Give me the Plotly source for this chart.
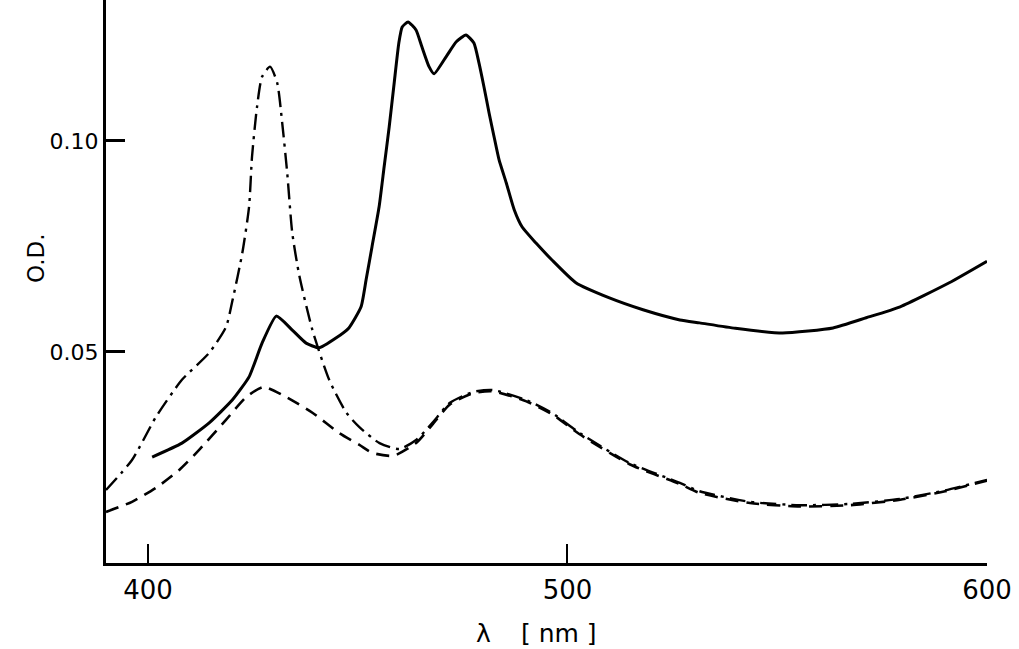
import plotly.graph_objects as go

# Solid curve
solid_x = [401.0, 408.1, 414.6, 420.1, 424.1, 427.2, 430.6, 434.4, 437.7, 440.8, 444.8, 447.9,
           450.8, 452.0, 453.4, 455.1, 456.3, 457.5, 458.7, 459.8, 460.6, 462.0, 463.9, 465.3,
           467.0, 468.2, 471.1, 473.5, 475.8, 477.7, 478.9, 480.1, 481.3, 482.5, 483.7, 485.4,
           487.3, 489.2, 492.5, 496.3, 502.0, 510.0, 518.0, 526.8, 531.5, 540.0, 551.3, 563.3,
           571.2, 579.3, 591.0, 600.0]
solid_y = [0.0251, 0.0284, 0.0332, 0.0386, 0.0441, 0.0521, 0.0585, 0.0552, 0.0521, 0.0510, 0.0533, 0.0557,
           0.0607, 0.0671, 0.0749, 0.0844, 0.0939, 0.1033, 0.1138, 0.1232, 0.1270, 0.1282, 0.1263, 0.1223,
           0.1176, 0.1159, 0.1200, 0.1235, 0.1251, 0.1232, 0.1185, 0.1128, 0.1067, 0.1010, 0.0955, 0.0901,
           0.0837, 0.0796, 0.0758, 0.0718, 0.0664, 0.0628, 0.0600, 0.0576, 0.0569, 0.0556, 0.0545, 0.0557,
           0.0581, 0.0607, 0.0664, 0.0715]

# Dash-dot curve
dashdot_x = [390.0, 396.2, 401.9, 408.1, 414.6, 418.6, 420.1, 422.5, 424.1, 424.8, 426.0, 427.2,
             429.1, 430.8, 432.0, 433.2, 434.4, 436.1, 439.2, 443.2, 447.3, 450.4, 455.2, 459.9,
             464.0, 467.8, 471.9, 477.4, 482.1, 490.2, 496.4, 502.9, 514.8, 526.8, 531.5, 543.5,
             555.4, 567.3, 579.3, 590.0, 600.0]
dashdot_y = [0.0173, 0.0244, 0.0346, 0.0434, 0.0498, 0.0559, 0.0620, 0.0735, 0.0844, 0.0962, 0.1081, 0.1152,
             0.1176, 0.1138, 0.1043, 0.0924, 0.0782, 0.0680, 0.0552, 0.0434, 0.0356, 0.0322, 0.0284, 0.0270,
             0.0292, 0.0332, 0.0379, 0.0405, 0.0410, 0.0386, 0.0355, 0.0308, 0.0237, 0.0190, 0.0170, 0.0145,
             0.0137, 0.0140, 0.0152, 0.0172, 0.0197]

# Dashed curve
dashed_x = [390.0, 396.2, 401.9, 407.4, 412.2, 418.6, 423.4, 427.5, 433.0, 439.2, 445.6, 450.4,
            453.5, 458.5, 464.0, 467.8, 471.9, 477.4, 482.1, 490.2, 496.4, 502.9, 514.8, 526.8,
            531.5, 543.5, 555.4, 567.3, 579.3, 590.0, 600.0]
dashed_y = [0.0121, 0.0145, 0.0178, 0.0220, 0.0268, 0.0339, 0.0393, 0.0417, 0.0393, 0.0356, 0.0308, 0.0280,
            0.0261, 0.0254, 0.0285, 0.0328, 0.0375, 0.0402, 0.0407, 0.0383, 0.0352, 0.0305, 0.0234, 0.0187,
            0.0166, 0.0142, 0.0134, 0.0137, 0.0150, 0.0170, 0.0195]

x_ticks = [400, 500, 600]
x_tick_labels = ["400", "500", "600"]
y_ticks = [0.05, 0.10]
y_tick_labels = ["0.05", "0.10"]

FONT = "DejaVu Sans"

fig = go.Figure()
fig.add_trace(go.Scatter(x=dashed_x, y=dashed_y, mode="lines",
                         line=dict(color="black", width=2.6, dash="13px,8px", shape="spline", smoothing=0.6)))
fig.add_trace(go.Scatter(x=dashdot_x, y=dashdot_y, mode="lines",
                         line=dict(color="black", width=2.4, dash="16px,6px,3px,6px", shape="spline", smoothing=0.6)))
fig.add_trace(go.Scatter(x=solid_x, y=solid_y, mode="lines",
                         line=dict(color="black", width=3, shape="spline", smoothing=0.5)))

fig.update_layout(
    width=1019, height=649,
    margin=dict(l=106, r=32, t=0, b=86),
    paper_bgcolor="white", plot_bgcolor="white",
    showlegend=False,
    font=dict(family=FONT, color="black"),
    annotations=[
        dict(text="O.D.", xref="paper", yref="paper", x=0, y=(563 - 258) / 563,
             xshift=-70, textangle=-90, showarrow=False, font=dict(size=23, family=FONT),
             xanchor="center", yanchor="middle"),
        dict(text="λ", xref="paper", yref="paper", x=(483 - 106) / 881, y=0,
             yshift=-70, showarrow=False, font=dict(size=25, family=FONT),
             xanchor="center", yanchor="middle"),
        dict(text="[ nm ]", xref="paper", yref="paper", x=(559 - 106) / 881, y=0,
             yshift=-70, showarrow=False, font=dict(size=25, family=FONT),
             xanchor="center", yanchor="middle"),
    ],
)
fig.update_xaxes(range=[390, 600], showgrid=False, zeroline=False,
                 showline=True, linecolor="black", linewidth=3,
                 ticks="inside", ticklen=19, tickwidth=1.5, tickcolor="black",
                 tickvals=x_ticks, ticktext=x_tick_labels,
                 tickfont=dict(size=26, family=FONT), ticklabelstandoff=2)
fig.update_yaxes(range=[0, 0.1334], showgrid=False, zeroline=False,
                 showline=True, linecolor="black", linewidth=3,
                 ticks="inside", ticklen=19, tickwidth=2.5, tickcolor="black",
                 tickvals=y_ticks, ticktext=y_tick_labels,
                 tickfont=dict(size=22, family=FONT))

fig.write_html("out.html")
